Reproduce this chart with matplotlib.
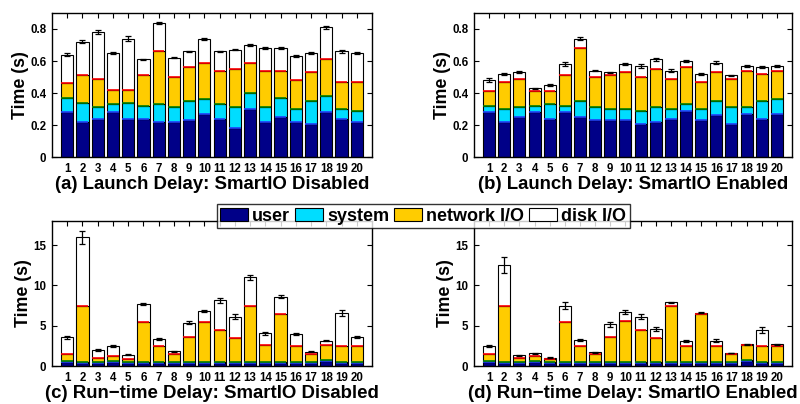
import numpy as np
import matplotlib.pyplot as plt
from matplotlib.patches import Patch

plt.rcParams['font.family'] = ['Liberation Sans', 'DejaVu Sans']
plt.rcParams['font.weight'] = 'bold'

apps = np.arange(1, 21)

# cumulative levels: top of user, system, network I/O, disk I/O
launch_off_user = [0.28, 0.22, 0.24, 0.28, 0.24, 0.24, 0.22, 0.22, 0.23, 0.27,
                   0.24, 0.18, 0.30, 0.22, 0.25, 0.22, 0.21, 0.28, 0.24, 0.22]
launch_off_sys = [0.37, 0.34, 0.31, 0.33, 0.34, 0.32, 0.33, 0.31, 0.35, 0.36,
                  0.33, 0.31, 0.40, 0.31, 0.37, 0.30, 0.35, 0.38, 0.30, 0.29]
launch_off_net = [0.46, 0.51, 0.49, 0.42, 0.42, 0.51, 0.66, 0.50, 0.56, 0.59,
                  0.54, 0.55, 0.59, 0.54, 0.54, 0.48, 0.53, 0.61, 0.47, 0.47]
launch_off_total = [0.64, 0.72, 0.78, 0.65, 0.74, 0.61, 0.84, 0.62, 0.66, 0.74,
                    0.66, 0.67, 0.70, 0.68, 0.68, 0.63, 0.65, 0.81, 0.66, 0.65]
launch_off_err = [0.007, 0.008, 0.014, 0.008, 0.014, 0.003, 0.006, 0.004, 0.004, 0.006,
                  0.004, 0.004, 0.004, 0.005, 0.005, 0.005, 0.004, 0.008, 0.007, 0.006]

launch_on_user = [0.28, 0.22, 0.25, 0.28, 0.24, 0.28, 0.25, 0.23, 0.23, 0.23,
                  0.21, 0.22, 0.24, 0.29, 0.23, 0.26, 0.21, 0.27, 0.24, 0.27]
launch_on_sys = [0.32, 0.30, 0.31, 0.32, 0.33, 0.32, 0.35, 0.31, 0.30, 0.30,
                 0.29, 0.31, 0.30, 0.33, 0.30, 0.35, 0.31, 0.31, 0.35, 0.36]
launch_on_net = [0.41, 0.47, 0.49, 0.41, 0.41, 0.51, 0.68, 0.50, 0.51, 0.53,
                 0.50, 0.55, 0.49, 0.56, 0.47, 0.53, 0.49, 0.54, 0.52, 0.54]
launch_on_total = [0.48, 0.52, 0.53, 0.43, 0.45, 0.58, 0.74, 0.54, 0.53, 0.58,
                   0.57, 0.61, 0.54, 0.60, 0.52, 0.59, 0.51, 0.57, 0.56, 0.57]
launch_on_err = [0.012, 0.008, 0.005, 0.003, 0.005, 0.014, 0.010, 0.005, 0.003, 0.008,
                 0.013, 0.010, 0.008, 0.006, 0.008, 0.010, 0.003, 0.005, 0.006, 0.005]

run_off_user = [0.45, 0.40, 0.40, 0.45, 0.40, 0.40, 0.40, 0.40, 0.40, 0.40,
                0.40, 0.40, 0.40, 0.40, 0.40, 0.35, 0.40, 0.60, 0.35, 0.40]
run_off_sys = [0.58, 0.52, 0.52, 0.58, 0.52, 0.52, 0.52, 0.52, 0.52, 0.52,
               0.52, 0.52, 0.52, 0.52, 0.52, 0.47, 0.52, 0.70, 0.47, 0.52]
run_off_net = [1.55, 7.5, 1.05, 1.25, 0.85, 5.5, 2.5, 1.55, 3.55, 5.5,
               4.5, 3.5, 7.5, 2.55, 6.5, 2.45, 1.5, 2.6, 2.5, 2.5]
run_off_total = [3.55, 16.0, 2.0, 2.45, 1.4, 7.7, 3.35, 1.85, 5.4, 6.8,
                 8.15, 6.1, 11.0, 4.05, 8.6, 3.95, 1.8, 3.15, 6.6, 3.6]
run_off_err = [0.2, 0.8, 0.08, 0.1, 0.04, 0.1, 0.1, 0.05, 0.2, 0.15,
               0.35, 0.3, 0.35, 0.15, 0.2, 0.15, 0.05, 0.1, 0.4, 0.1]

run_on_user = [0.45, 0.40, 0.40, 0.45, 0.40, 0.40, 0.40, 0.40, 0.40, 0.40,
               0.40, 0.40, 0.40, 0.40, 0.40, 0.35, 0.40, 0.60, 0.35, 0.40]
run_on_sys = [0.58, 0.52, 0.52, 0.58, 0.52, 0.52, 0.52, 0.52, 0.52, 0.52,
              0.52, 0.52, 0.52, 0.52, 0.52, 0.47, 0.52, 0.70, 0.47, 0.52]
run_on_net = [1.55, 7.5, 1.05, 1.25, 0.85, 5.5, 2.5, 1.55, 3.55, 5.55,
              4.5, 3.5, 7.5, 2.5, 6.5, 2.45, 1.55, 2.65, 2.5, 2.5]
run_on_total = [2.5, 12.5, 1.35, 1.6, 1.05, 7.5, 3.2, 1.7, 5.2, 6.7,
                6.1, 4.6, 7.9, 3.1, 6.6, 3.15, 1.6, 2.7, 4.5, 2.7]
run_on_err = [0.15, 1.0, 0.05, 0.06, 0.03, 0.4, 0.1, 0.04, 0.3, 0.2,
              0.3, 0.2, 0.1, 0.1, 0.05, 0.15, 0.03, 0.03, 0.35, 0.05]

titles = ['(a) Launch Delay: SmartIO Disabled', '(b) Launch Delay: SmartIO Enabled',
          '(c) Run\u2212time Delay: SmartIO Disabled', '(d) Run\u2212time Delay: SmartIO Enabled']
labels = ['user', 'system', 'network I/O', 'disk I/O']
colors = ['#000088', '#00DDFF', '#FFCC00', 'white']
line_colors = ['#2040FF', '#008000', 'red']

panels = [
    (launch_off_user, launch_off_sys, launch_off_net, launch_off_total, launch_off_err),
    (launch_on_user, launch_on_sys, launch_on_net, launch_on_total, launch_on_err),
    (run_off_user, run_off_sys, run_off_net, run_off_total, run_off_err),
    (run_on_user, run_on_sys, run_on_net, run_on_total, run_on_err),
]

fig = plt.figure(figsize=(8, 4.04), dpi=100)
rects = [[0.065, 0.611, 0.400, 0.357], [0.5925, 0.611, 0.3975, 0.357],
         [0.065, 0.094, 0.400, 0.359], [0.5925, 0.094, 0.3975, 0.359]]

for i, (rect, data) in enumerate(zip(rects, panels)):
    ax = fig.add_axes(rect)
    levels = [np.zeros(20)] + [np.array(d) for d in data[:4]]
    for k in range(4):
        ax.bar(apps, levels[k + 1] - levels[k], bottom=levels[k], width=0.8,
               color=colors[k], edgecolor='black', linewidth=0.8, zorder=2)
    for k in range(3):
        ax.hlines(levels[k + 1], apps - 0.38, apps + 0.38, colors=line_colors[k],
                  linewidth=1.2, zorder=3)
    ax.errorbar(apps, data[3], yerr=data[4], fmt='none', ecolor='black',
                elinewidth=0.9, capsize=2.5, capthick=0.9, zorder=4)
    ax.set_xlim(0, 21)
    if i < 2:
        ax.set_ylim(0, 0.9)
        ax.set_yticks([0, 0.2, 0.4, 0.6, 0.8])
        ax.set_yticklabels(['0', '0.2', '0.4', '0.6', '0.8'])
    else:
        ax.set_ylim(0, 18)
        ax.set_yticks([0, 5, 10, 15])
    ax.set_xticks(apps)
    ax.tick_params(direction='in', top=True, right=True, length=3.5, width=0.8,
                   labelsize=8.3, pad=4)
    for lab in ax.get_xticklabels() + ax.get_yticklabels():
        lab.set_fontweight('bold')
    ax.set_ylabel('Time (s)', fontsize=12.8, fontweight='bold', labelpad=1)
    ax.set_xlabel(titles[i], fontsize=13.4, fontweight='bold', labelpad=1)
    for s in ax.spines.values():
        s.set_linewidth(1.0)

handles = [Patch(facecolor=c, edgecolor='black', linewidth=0.8) for c in colors]
leg = fig.legend(handles, labels, loc='center', bbox_to_anchor=(0.529, 0.465), ncol=4,
                 prop={'size': 13.0, 'weight': 'bold'}, frameon=True, fancybox=False,
                 edgecolor='black', handlelength=1.55, handleheight=0.8,
                 handletextpad=0.2, columnspacing=0.3, borderpad=0.2, borderaxespad=0)
leg.get_frame().set_linewidth(1.0)
leg.set_zorder(10)

fig.savefig('out.png', dpi=100)
